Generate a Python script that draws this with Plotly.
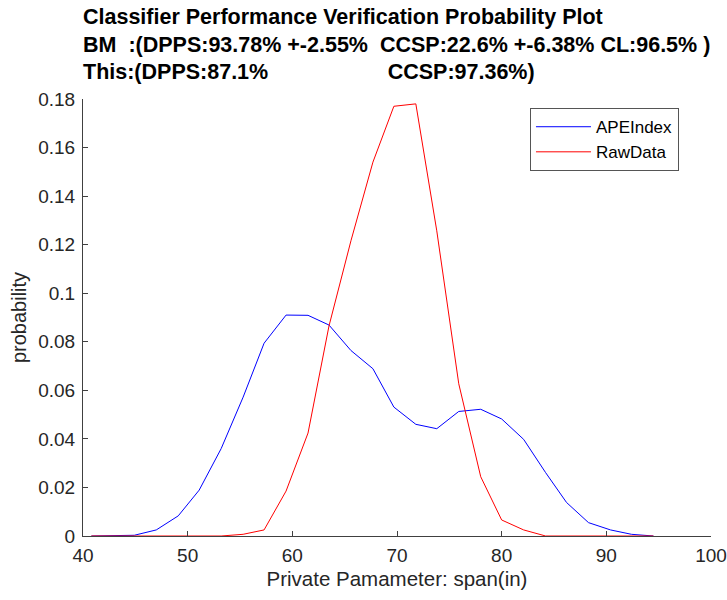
import plotly.graph_objects as go

# bin centres along span (in)
span = [40.8, 42.9, 44.9, 47.0, 49.1, 51.1, 53.2, 55.3, 57.3, 59.4, 61.5, 63.5, 65.6, 67.7,
        69.7, 71.8, 73.8, 75.9, 78.0, 80.0, 82.1, 84.2, 86.2, 88.3, 90.4, 92.4, 94.5]

ape_index = [0, 0, 0.0003, 0.0025, 0.0083, 0.0189, 0.036, 0.0572, 0.0794, 0.091, 0.0909,
             0.0869, 0.0764, 0.0689, 0.0531, 0.046, 0.0442, 0.0513, 0.0522, 0.0482, 0.0398,
             0.0261, 0.0138, 0.0055, 0.0025, 0.0007, 0]

raw_data = [0, 0, 0, 0, 0, 0, 0, 0.0007, 0.0025, 0.0185, 0.0424, 0.0865, 0.1216, 0.154,
            0.177, 0.178, 0.1257, 0.0627, 0.0244, 0.0066, 0.0025, 0, 0, 0, 0, 0, 0]

title_lines = [
    'Classifier Performance Verification Probability Plot',
    'BM  :(DPPS:93.78% +-2.55%  CCSP:22.6% +-6.38% CL:96.5% )',
    'This:(DPPS:87.1%                    CCSP:97.36%)',
]
title_rows = [17, 45, 72]  # pixel centre of each title line

font = 'Liberation Sans, Arial, sans-serif'
axis_col = '#404040'

fig = go.Figure()
fig.add_trace(go.Scatter(x=span, y=ape_index, mode='lines', name='APEIndex',
                         line=dict(color='#0000ff', width=1)))
fig.add_trace(go.Scatter(x=span, y=raw_data, mode='lines', name='RawData',
                         line=dict(color='#ff0000', width=1)))

# three bold title lines, left aligned with the axes
for txt, row in zip(title_lines, title_rows):
    fig.add_annotation(
        text='<b>' + txt.replace(' ', '&nbsp;') + '</b>',
        xref='paper', yref='paper', x=0, y=1,
        xanchor='left', yanchor='middle', yshift=99 - row, xshift=-2,
        showarrow=False, font=dict(family=font, size=21.5, color='black'),
    )

fig.update_layout(
    width=727, height=600,
    margin=dict(l=83, r=16, t=99, b=64),
    paper_bgcolor='white', plot_bgcolor='white',
    font=dict(family=font, size=19, color='#262626'),
    showlegend=True,
    legend=dict(x=0.949, y=0.979, xanchor='right', yanchor='top',
                bgcolor='white', bordercolor='#555', borderwidth=1,
                itemwidth=55,
                font=dict(size=17, color='black'), tracegroupgap=0),
    xaxis=dict(range=[40, 100], tickvals=[40, 50, 60, 70, 80, 90, 100],
               showgrid=False, zeroline=False, showline=True, linecolor=axis_col,
               linewidth=1, ticks='inside', ticklen=5, tickcolor=axis_col,
               automargin=False, ticklabelstandoff=2,
               title=dict(text='Private Pamameter: span(in)', standoff=6,
                          font=dict(size=20.5))),
    yaxis=dict(range=[0, 0.18], tickvals=[0, 0.02, 0.04, 0.06, 0.08, 0.1, 0.12, 0.14, 0.16, 0.18],
               ticktext=['0', '0.02', '0.04', '0.06', '0.08', '0.1', '0.12', '0.14', '0.16', '0.18'],
               showgrid=False, zeroline=False, showline=True, linecolor=axis_col,
               linewidth=1, ticks='inside', ticklen=5, tickcolor=axis_col,
               automargin=False, ticklabelstandoff=3,
               title=dict(text='probability', standoff=6, font=dict(size=20))),
)

# drop the page's default body margin so the figure sits at the window corner
fig.write_html('out.html', config={'displayModeBar': False},
               post_script="document.body.style.margin='0';")
